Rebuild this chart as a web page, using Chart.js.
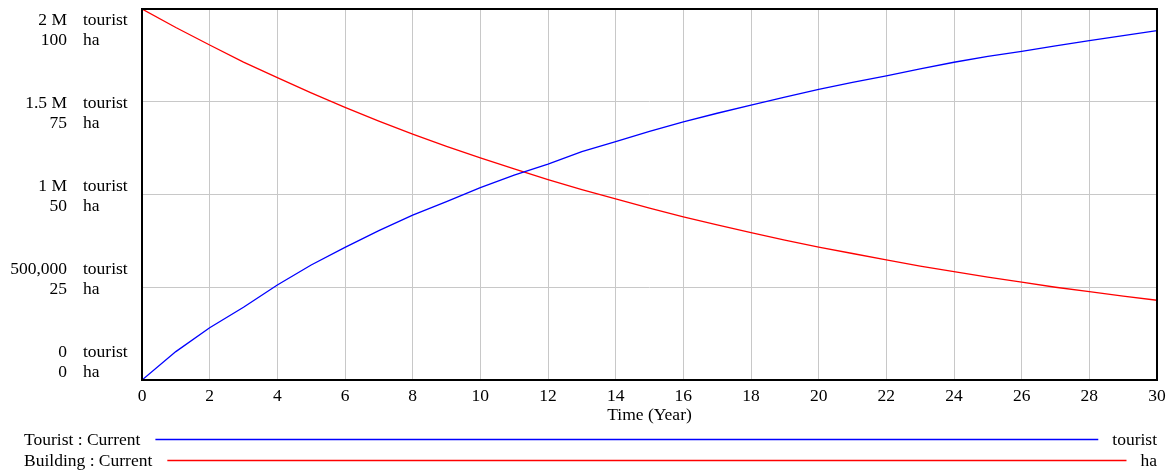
<!DOCTYPE html>
<html lang="en">
<head>
  <meta charset="UTF-8" />
  <title>Tourist and Building - Current</title>
  <script src="https://cdn.jsdelivr.net/npm/chart.js"></script>
  <style>
    body { margin: 0; background: white; }
    canvas { display: block; }
  </style>
</head>
<body>

<canvas id="simChart" width="1170" height="470"></canvas>

<script>
  // Time axis (Year) and the two runs
  const years = [0,1,2,3,4,5,6,7,8,9,10,11,12,13,14,15,16,17,18,19,20,21,22,23,24,25,26,27,28,29,30];
  const tourist = [0,153000,282000,392000,512000,620000,715000,805000,889000,962000,1037000,1105000,1164000,1231000,1285000,1340000,1392000,1438000,1482000,1525000,1567000,1604000,1640000,1677000,1713000,1745000,1772000,1801000,1829000,1856000,1883000];
  const building = [100,95,90.3,85.7,81.5,77.4,73.5,69.8,66.3,63.0,59.9,56.9,54.0,51.3,48.8,46.3,44.0,41.8,39.7,37.7,35.8,34.1,32.4,30.7,29.2,27.7,26.4,25.0,23.8,22.6,21.5];

  // y tick labels, two units per gridline (top to bottom)
  const touristTicks = ['2 M', '1.5 M', '1 M', '500,000', '0'];
  const haTicks = ['100', '75', '50', '25', '0'];
  const legendItems = [
    { name: 'Tourist : Current', unit: 'tourist', color: '#0000ff' },
    { name: 'Building : Current', unit: 'ha', color: '#ff0000' }
  ];

  const FAMILY = '"Liberation Serif", "Times New Roman", serif';
  const FONT = '17.5px ' + FAMILY;

  // Vensim-style labels, frame and legend
  const vensimDecor = {
    id: 'vensimDecor',
    afterDraw(chart) {
      const c = chart.ctx;
      const area = chart.chartArea;
      c.save();

      // plot frame
      c.strokeStyle = '#000';
      c.lineWidth = 2;
      c.strokeRect(area.left, area.top, area.right - area.left, area.bottom - area.top);

      // y labels
      c.font = FONT;
      c.fillStyle = '#000';
      c.textBaseline = 'middle';
      const first = area.top + 11;
      const step = (area.bottom - 28 - first) / (touristTicks.length - 1);
      touristTicks.forEach((t, i) => {
        const y = first + i * step;
        c.textAlign = 'right';
        c.fillText(t, 67, y);
        c.fillText(haTicks[i], 67, y + 20);
        c.textAlign = 'left';
        c.fillText('tourist', 83, y);
        c.fillText('ha', 83, y + 20);
      });

      // x title
      c.textAlign = 'center';
      c.fillText('Time (Year)', (area.left + area.right) / 2, 415);

      // legend rows
      legendItems.forEach((item, i) => {
        const y = 440 + i * 21;
        c.textAlign = 'left';
        c.fillText(item.name, 24, y);
        const start = 24 + c.measureText(item.name).width + 15;
        c.textAlign = 'right';
        c.fillText(item.unit, 1157, y);
        const end = 1157 - c.measureText(item.unit).width - 14;
        c.strokeStyle = item.color;
        c.lineWidth = 1.5;
        c.beginPath();
        c.moveTo(start, y - 0.5);
        c.lineTo(end, y - 0.5);
        c.stroke();
      });

      c.restore();
    }
  };

  new Chart(document.getElementById('simChart'), {
    type: 'line',
    data: {
      datasets: [
        {
          label: 'Tourist : Current',
          data: years.map((t, i) => ({ x: t, y: tourist[i] })),
          borderColor: '#0000ff',
          borderWidth: 1.3,
          pointRadius: 0,
          tension: 0,
          yAxisID: 'y'
        },
        {
          label: 'Building : Current',
          data: years.map((t, i) => ({ x: t, y: building[i] })),
          borderColor: '#ff0000',
          borderWidth: 1.3,
          pointRadius: 0,
          tension: 0,
          yAxisID: 'y1'
        }
      ]
    },
    options: {
      responsive: false,
      animation: false,
      layout: { padding: { left: 0, right: 13, top: 9, bottom: 0 } },
      plugins: {
        legend: { display: false },
        tooltip: { enabled: false }
      },
      scales: {
        x: {
          type: 'linear',
          min: 0,
          max: 30,
          afterFit(scale) {
            scale.height = 90;
            scale.paddingLeft = 0;
            scale.paddingRight = 0;
          },
          border: { display: false },
          grid: { color: '#c8c8c8', lineWidth: 1, drawTicks: false },
          ticks: {
            stepSize: 2,
            padding: 6,
            color: '#000',
            maxRotation: 0,
            font: { family: FAMILY, size: 17.5 }
          }
        },
        y: {
          min: 0,
          max: 2000000,
          afterFit(scale) { scale.width = 142; },
          border: { display: false },
          grid: { color: '#c8c8c8', lineWidth: 1, drawTicks: false },
          ticks: { stepSize: 500000, display: false }
        },
        y1: {
          min: 0,
          max: 100,
          display: false
        }
      }
    },
    plugins: [vensimDecor]
  });
</script>
</body>
</html>
